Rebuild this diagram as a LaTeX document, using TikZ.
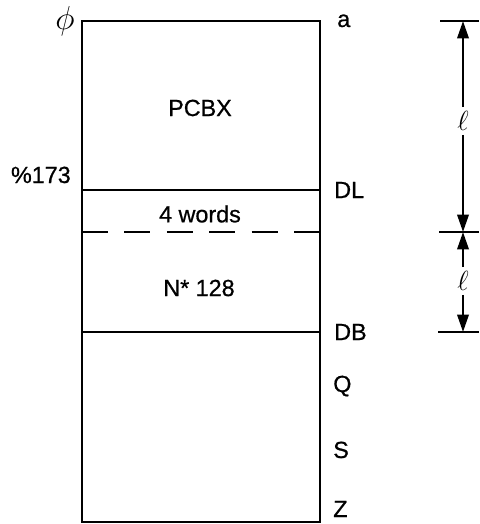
\documentclass[tikz,border=0pt]{standalone}
\usepackage{fontspec}
\setmainfont{Liberation Sans}
\newfontfamily\labelfont[FakeBold=0.7]{Liberation Sans}
\usetikzlibrary{arrows.meta}
\begin{document}
\begin{tikzpicture}[x=0.75pt,y=-0.75pt,
  wall/.style={line width=1.8pt},
  tag/.style={inner sep=0pt, font=\labelfont\fontsize{17.5}{20}\selectfont},
  dim/.style={line width=1.8pt, -{Triangle[length=13pt,width=8.5pt]}},
  len/.style={inner sep=3pt, font=\fontsize{20}{22}\selectfont}]
\useasboundingbox (0,0) rectangle (479,524);
% memory block
\coordinate (topL) at (82,21);
\coordinate (botR) at (320,522);
\coordinate (dlL) at (82,190);
\coordinate (dlR) at (320,190);
\coordinate (wdL) at (82,232);
\coordinate (wdR) at (320,232);
\coordinate (dbL) at (82,332);
\coordinate (dbR) at (320,332);
\draw[wall] (topL) rectangle (botR);
\draw[wall] (dlL) -- (dlR);
\draw[wall, dash pattern=on 19.5pt off 12.3pt] (wdL) -- (wdR);
\draw[wall] (dbL) -- (dbR);

\node[tag] (pcbx)  at (200,108) {PCBX};
\node[tag] (words) at (200,214) {4 words};
\node[tag] (nblk)  at (199,288) {N* 128};

% left labels
\node[inner sep=0pt, font=\fontsize{25}{28}\selectfont] (zero) at (65,21) {$\phi$};
\node[tag, anchor=base east] (oct) at (71,183) {\%173};

% right labels
\node[tag, anchor=base west] (la) at (337,27) {a};
\node[tag, anchor=base west] (ldl) at (334,198) {DL};
\node[tag, anchor=base west] (ldb) at (334,340) {DB};
\node[tag, anchor=base west] (lq) at (333,392) {Q};
\node[tag, anchor=base west] (ls) at (333,458) {S};
\node[tag, anchor=base west] (lz) at (333,517) {Z};

% dimension lines
\coordinate (tickA) at (440,21);
\coordinate (tickB) at (439,232);
\coordinate (tickC) at (438,332);
\draw[wall] (tickA) -- (479,21);
\draw[wall] (tickB) -- (479,232);
\draw[wall] (tickC) -- (479,332);
\coordinate (arrA) at (463,21);
\coordinate (arrB) at (463,232);
\coordinate (arrC) at (463,332);
\node[len] (ellA) at (463,121) {$\ell$};
\node[len] (ellB) at (463,281) {$\ell$};
\draw[dim] (ellA) -- (arrA);
\draw[dim] (ellA) -- (arrB);
\draw[dim] (ellB) -- (arrB);
\draw[dim] (ellB) -- (arrC);
\end{tikzpicture}
\end{document}
